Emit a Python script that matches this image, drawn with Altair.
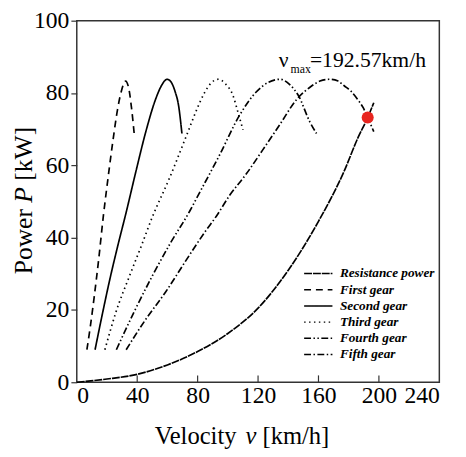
import altair as alt
import pandas as pd

series_names = ["Resistance power", "First gear", "Second gear",
                "Third gear", "Fourth gear", "Fifth gear"]

# Resistance power curve
res_v = [0, 20, 40, 60, 80, 100, 120, 140, 160, 177, 186, 192.57, 196.6]
res_p = [0, 0.9, 2.2, 4.8, 8.5, 13.5, 20.5, 31, 44.5, 58.4, 67.5, 73.2, 77.3]

# Gear power curves
g1_v = [6.7, 9, 11.5, 14.5, 17.6, 21, 24, 27, 29.5, 32.3, 34.3, 36.2, 38]
g1_p = [9, 15.5, 23.5, 34, 46, 57.5, 67, 75.5, 80.5, 83.3, 81.5, 76, 68.8]

g2_v = [12.1, 17, 21.9, 27, 32.7, 39.2, 45.7, 52.2, 56, 59.8, 62.5, 65, 67.4, 69.6]
g2_p = [9, 19, 28.5, 37.5, 47, 58.4, 69.3, 78.3, 82, 83.8, 83, 80.5, 76.5, 68.8]

g3_v = [18.6, 26, 34.9, 43, 50, 60.9, 72.8, 79.5, 84.7, 89, 93.7, 98.5, 103.4, 106.7, 110]
g3_p = [9, 19.5, 29.4, 38, 45.7, 56, 68.4, 75.5, 80.2, 82.8, 83.8, 82.5, 79.3, 74.7, 69.8]

g4_v = [26.2, 38, 50, 62, 75, 79.7, 94.7, 107.7, 118.6, 127, 134.8, 141, 146.7, 154.3, 158.7]
g4_p = [9, 19.5, 29.4, 38.5, 47.5, 51.2, 63, 73.8, 80.2, 83, 83.8, 82.3, 79.3, 72, 68.8]

g5_v = [32.7, 45, 58.7, 72, 84.7, 92.5, 101.2, 112, 123, 134, 145.7, 155, 161, 167,
        173, 177, 181.5, 185.8, 189.5, 192.57, 196.6]
g5_p = [9, 17, 24.9, 33.5, 41.5, 46, 51.7, 57.5, 64.2, 71, 78.3, 81.8, 83.3, 83.8,
        83.3, 82, 80.5, 78.3, 76, 73.2, 69.3]

vmax_v = [192.57]
vmax_p = [73.2]

x_ticks = [0, 40, 80, 120, 160, 200, 240]
y_ticks = [0, 20, 40, 60, 80, 100]
inner_ticks = [40, 80, 120, 160, 200]

rows = []
for name, vs, ps in zip(series_names,
                        [res_v, g1_v, g2_v, g3_v, g4_v, g5_v],
                        [res_p, g1_p, g2_p, g3_p, g4_p, g5_p]):
    for i, (v, p) in enumerate(zip(vs, ps)):
        rows.append({"series": name, "v": v, "P": p, "order": i})
df = pd.DataFrame(rows)

dash_range = [[8, 1], [7, 5], [1, 0], [1.5, 3.5],
              [7, 2.5, 1.5, 2.5, 1.5, 2.5], [7, 2.5, 1.5, 2.5]]

SERIF = "Liberation Serif"

xscale = alt.Scale(domain=[0, 240], nice=False, zero=False)
yscale = alt.Scale(domain=[0, 100], nice=False)

lines = alt.Chart(df).mark_line(interpolate="monotone", strokeWidth=1.7, color="black").encode(
    x=alt.X("v:Q", scale=xscale,
            axis=alt.Axis(values=x_ticks, title=None, ticks=False, tickSize=0,
                          labelPadding=2, labelFont=SERIF, labelFontSize=24,
                          labelColor="black", domain=False, grid=False)),
    y=alt.Y("P:Q", scale=yscale,
            axis=alt.Axis(values=y_ticks, title=None, tickSize=6, tickColor="#333",
                          tickWidth=1.2, labelPadding=2, labelFont=SERIF,
                          labelFontSize=24, labelColor="black", domain=False, grid=False)),
    strokeDash=alt.StrokeDash("series:N",
                              scale=alt.Scale(domain=series_names, range=dash_range),
                              legend=alt.Legend(title=None, orient="none", legendX=236.8,
                                                legendY=248.3,
                                                symbolType="M-1.8,0H1.8",
                                                symbolSize=256, symbolStrokeWidth=1.5,
                                                symbolStrokeColor="black",
                                                labelFont=SERIF, labelFontSize=13.5,
                                                labelFontStyle="italic",
                                                labelFontWeight="bold",
                                                labelColor="black", rowPadding=0.5,
                                                labelOffset=13, padding=0)),
    order=alt.Order("order:Q"),
)

pt = alt.Chart(pd.DataFrame({"v": vmax_v, "P": vmax_p})).mark_circle(
    size=150, color="#e8251f", opacity=1).encode(
    x=alt.X("v:Q", scale=xscale), y=alt.Y("P:Q", scale=yscale))

ticks = alt.Chart(pd.DataFrame({"t": inner_ticks})).mark_rule(
    color="#333", strokeWidth=1.2).encode(
    x=alt.X("t:Q", scale=xscale), y=alt.value(361), y2=alt.value(368))


def txt(s, x, y, size, style="normal", angle=0):
    return alt.Chart(pd.DataFrame({"s": [s]})).mark_text(
        font=SERIF, fontSize=size, fontStyle=style, align="left",
        baseline="alphabetic", color="black", angle=angle).encode(
        text="s:N", x=alt.value(x), y=alt.value(y))


# annotation
ann = [
    txt("ν", 205.6, 47.3, 22),
    txt("max", 217.6, 53, 12),
    txt("=192.57km/h", 237.3, 47.3, 22),
]

# x title
xt = [
    txt("Velocity", 79.3, 431, 25),
    txt("v", 171.7, 431, 25, "italic"),
    txt("[km/h]", 189.0, 431, 25),
]

# y title (rotated)
yt = [
    txt("Power", -45.7, 258.1, 26, angle=270),
    txt("P", -45.7, 185.2, 26, "italic", angle=270),
    txt("[kW]", -45.7, 162.8, 26, angle=270),
]

chart = alt.layer(lines, ticks, pt, *ann, *xt, *yt).properties(
    width=369, height=368,
    padding={"left": 70, "top": 9, "right": 19, "bottom": 64},
    autosize=alt.AutoSizeParams(type="none"),
).configure_view(stroke="#333", strokeWidth=1.5)

chart.save("out.html", embed_options={"renderer": "svg", "actions": False})
